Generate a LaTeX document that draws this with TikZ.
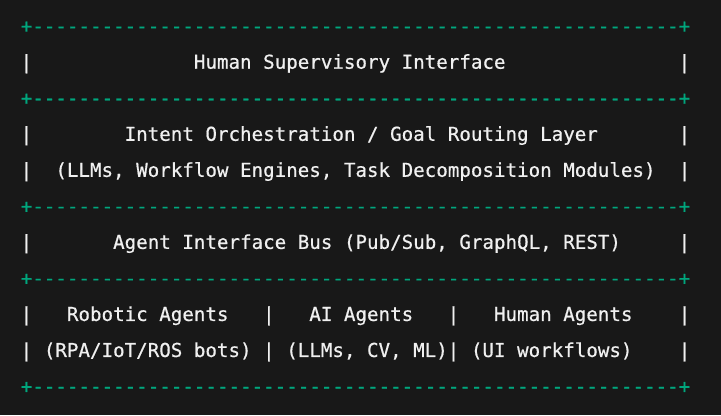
\documentclass[tikz,border=0pt]{standalone}
\usepackage{fontspec}
\setmonofont{DejaVu Sans Mono}[FakeBold=0.6]
\definecolor{codebg}{HTML}{181818}
\definecolor{addgreen}{HTML}{00A67D}
\definecolor{plaintext}{HTML}{F0F0F0}

\def\border{+%
----------%
----------%
----------%
----------%
----------%
------%
+}

\begin{document}
\begin{tikzpicture}[x=0.75pt, y=0.75pt,
  asciirow/.style={anchor=base west, inner sep=0pt,
    font=\ttfamily\fontsize{14.38pt}{17pt}\selectfont},
  rulerow/.style={asciirow, text=addgreen},
  textrow/.style={asciirow, text=plaintext}]
\def \xleft {20.5}
\def \ytop {382.3}
\def \rowgap {36.03}

\fill[codebg] (0,0) rectangle (721,415);

\node[rulerow] at (\xleft, {\ytop-0*\rowgap}) (row0) {\border};
\node[textrow] at (\xleft, {\ytop-1*\rowgap}) (row1) {|~~~~~~~~~~~~~~Human~Supervisory~Interface~~~~~~~~~~~~~~~|};
\node[rulerow] at (\xleft, {\ytop-2*\rowgap}) (row2) {\border};
\node[textrow] at (\xleft, {\ytop-3*\rowgap}) (row3) {|~~~~~~~~Intent~Orchestration~/~Goal~Routing~Layer~~~~~~~|};
\node[textrow] at (\xleft, {\ytop-4*\rowgap}) (row4) {|~~(LLMs,~Workflow~Engines,~Task~Decomposition~Modules)~~|};
\node[rulerow] at (\xleft, {\ytop-5*\rowgap}) (row5) {\border};
\node[textrow] at (\xleft, {\ytop-6*\rowgap}) (row6) {|~~~~~~~Agent~Interface~Bus~(Pub/Sub,~GraphQL,~REST)~~~~~|};
\node[rulerow] at (\xleft, {\ytop-7*\rowgap}) (row7) {\border};
\node[textrow] at (\xleft, {\ytop-8*\rowgap}) (row8) {|~~~Robotic~Agents~~~|~~~AI~Agents~~~|~~~Human~Agents~~~~|};
\node[textrow] at (\xleft, {\ytop-9*\rowgap}) (row9) {|~(RPA/IoT/ROS~bots)~|~(LLMs,~CV,~ML)|~(UI~workflows)~~~~|};
\node[rulerow] at (\xleft, {\ytop-10*\rowgap}) (row10) {\border};

\end{tikzpicture}
\end{document}
